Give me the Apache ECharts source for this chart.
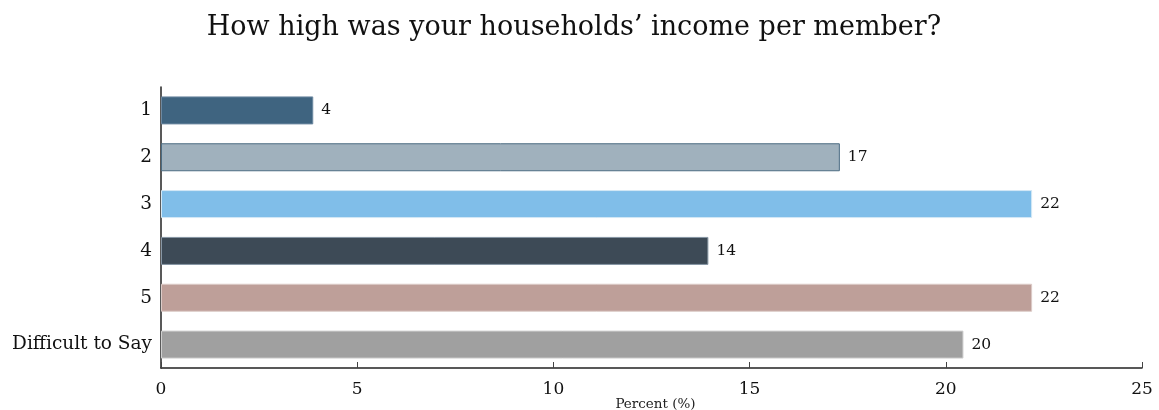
<!DOCTYPE html>
<html>
<head>
<meta charset="utf-8">
<script src="https://cdn.jsdelivr.net/npm/echarts@6/dist/echarts.min.js"></script>
<style>
  html, body { margin: 0; padding: 0; background: #fff; }
  #chart { width: 1159px; height: 410px; }
</style>
</head>
<body>
<div id="chart"></div>
<script>
const categories = ['1', '2', '3', '4', '5', 'Difficult to Say'];
const percentValues = [3.88, 17.3, 22.2, 13.95, 22.2, 20.45];
const barColors = ['#3f6480', '#a0b1bd', '#80bee9', '#3d4a56', '#be9f99', '#a0a0a0'];
const barBorders = ['#6d88a0', '#4c6c83', '#d3e8f6', '#8796a4', '#dccbc7', '#cfcfcf'];
const xTicks = [0, 5, 10, 15, 20, 25];

const serif = '"DejaVu Serif", "Liberation Serif", serif';
const chart = echarts.init(document.getElementById('chart'));

const data = percentValues.map((v, i) => ({
    value: v,
    itemStyle: {
        color: barColors[i],
        borderColor: barBorders[i],
        borderWidth: 1
    }
}));

chart.setOption({
    animation: false,
    title: {
        text: 'How high was your households\u2019 income per member?',
        left: 569,
        textAlign: 'center',
        top: 9,
        textStyle: { fontFamily: serif, fontSize: 27, fontWeight: 'normal', color: '#111' }
    },
    grid: { left: 161, right: 17, top: 87, bottom: 42, containLabel: false, outerBoundsMode: 'none' },
    xAxis: {
        type: 'value',
        min: xTicks[0],
        max: xTicks[xTicks.length - 1],
        interval: 5,
        name: 'Percent (%)',
        nameLocation: 'middle',
        nameGap: 29,
        nameMoveOverlap: false,
        nameTextStyle: { fontFamily: serif, fontSize: 13.5, color: '#222', padding: [0, 0, 0, 8] },
        axisLine: { show: true, lineStyle: { color: '#222', width: 1.5 } },
        axisTick: { show: true, inside: true, length: 6, lineStyle: { color: '#444' } },
        axisLabel: { fontFamily: serif, fontSize: 17, color: '#111', margin: 13 },
        splitLine: { show: false }
    },
    yAxis: {
        type: 'category',
        inverse: true,
        data: categories,
        axisLine: { show: true, lineStyle: { color: '#222', width: 1.5 } },
        axisTick: { show: false },
        axisLabel: { fontFamily: serif, fontSize: 18.5, color: '#111', margin: 9 }
    },
    series: [{
        type: 'bar',
        data,
        barWidth: 28,
        label: {
            show: true,
            position: 'right',
            distance: 8,
            fontFamily: serif,
            fontSize: 15.5,
            color: '#111',
            formatter: (p) => Math.round(p.value)
        }
    }]
});
</script>
</body>
</html>
